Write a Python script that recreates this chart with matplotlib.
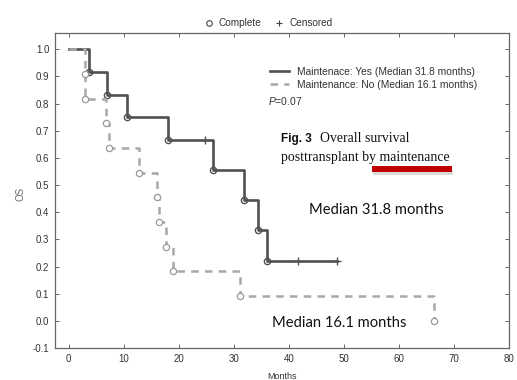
#!/usr/bin/env python3
"""Kaplan-Meier overall survival by maintenance therapy."""

import matplotlib

matplotlib.use("Agg")
import matplotlib.pyplot as plt
from matplotlib.lines import Line2D
from matplotlib.patches import Rectangle

plt.rcParams["font.family"] = ["Liberation Sans", "DejaVu Sans"]
plt.rcParams["mathtext.fontset"] = "custom"
plt.rcParams["mathtext.it"] = "Liberation Sans:italic"
plt.rcParams["mathtext.rm"] = "Liberation Sans"

# Maintenance: Yes
yes_times = [0, 3.7, 7.0, 10.5, 18.1, 26.2, 31.8, 34.4, 36.1, 48.7]
yes_surv = [1.0, 0.917, 0.833, 0.750, 0.667, 0.556, 0.444, 0.333, 0.222, 0.222]
yes_event_times = [3.7, 7.0, 10.5, 18.1, 26.2, 31.8, 34.4, 36.1]
yes_event_surv = [0.917, 0.833, 0.750, 0.667, 0.556, 0.444, 0.333, 0.222]
yes_cens_times = [24.7, 41.6, 48.7]
yes_cens_surv = [0.667, 0.222, 0.222]

# Maintenance: No
no_times = [0, 2.9, 3.0, 6.7, 7.3, 12.7, 16.1, 16.4, 17.6, 19.0, 31.1, 66.3]
no_surv = [1.0, 0.909, 0.818, 0.727, 0.636, 0.545, 0.455, 0.364, 0.273, 0.182, 0.091, 0.0]

x_ticks = [0, 10, 20, 30, 40, 50, 60, 70, 80]
y_ticks = [-0.1, 0.0, 0.1, 0.2, 0.3, 0.4, 0.5, 0.6, 0.7, 0.8, 0.9, 1.0]

YES_COLOR = "#505050"
NO_COLOR = "#a8a8a8"
TEXT_COLOR = "#333333"

fig = plt.figure(figsize=(5.17, 3.80), dpi=100)
ax = fig.add_axes([0.1064, 0.0842, 0.8781, 0.8289])

ax.step(yes_times, yes_surv, where="post", color=YES_COLOR, lw=1.9, zorder=3)
ax.plot(yes_event_times, yes_event_surv, "o", ms=4.5, mfc="none", mec=YES_COLOR, mew=1.0, zorder=4)
ax.plot(yes_cens_times, yes_cens_surv, "+", ms=6, color=YES_COLOR, mew=1.0, zorder=4)

ax.step(no_times, no_surv, where="post", color=NO_COLOR, lw=1.8, ls=(0, (3, 2.5)), zorder=5)
ax.plot(no_times[1:], no_surv[1:], "o", ms=4.5, mfc="white", mec="#999999", mew=0.9, zorder=6)

ax.set_xlim(-2.5, 80)
ax.set_ylim(-0.1, 1.06)
ax.set_xticks(x_ticks)
ax.set_yticks(y_ticks)
ax.set_yticklabels([f"{v:.1f}" for v in y_ticks])
ax.tick_params(direction="in", length=3, width=0.7, colors="#666666", labelcolor=TEXT_COLOR,
               labelsize=7, top=True, right=True, pad=4)
for spine in ax.spines.values():
    spine.set_color("#666666")
    spine.set_linewidth(0.9)

ax.set_xlabel("Months", fontsize=6.5, color=TEXT_COLOR, labelpad=6)
fig.text(21 / 517, 1 - 194 / 380, "OS", rotation=90, fontsize=7, color="#666666",
         ha="center", va="center")

# in-plot legend for the two curves
curve_handles = [
    Line2D([], [], color=YES_COLOR, lw=1.9),
    Line2D([], [], color=NO_COLOR, lw=1.8, ls=(0, (3, 2.5))),
]
curve_labels = [
    "Maintenace: Yes (Median 31.8 months)",
    "Maintenance: No (Median 16.1 months)",
]
ax.legend(curve_handles, curve_labels, loc="upper left",
          bbox_to_anchor=(270 / 517, 1 - 67 / 380), bbox_transform=fig.transFigure,
          frameon=False, fontsize=7.4, handlelength=1.8, handletextpad=0.8,
          labelspacing=0.25, borderpad=0, borderaxespad=0, labelcolor=TEXT_COLOR)
fig.text(268 / 517, 1 - 101 / 380, "$\\mathit{P}$=0.07", fontsize=7.4, color=TEXT_COLOR,
         ha="left", va="center")

# marker key above the axes
key_handles = [
    Line2D([], [], marker="o", ls="none", ms=4, mfc="none", mec="#444444", mew=0.8),
    Line2D([], [], marker="+", ls="none", ms=5, color="#444444", mew=0.8),
]
fig.legend(key_handles, ["Complete", "Censored"], loc="center",
           bbox_to_anchor=(268 / 517, 1 - 23 / 380), ncol=2, frameon=False,
           fontsize=7.2, handlelength=1.0, handletextpad=0.5, columnspacing=1.3,
           labelcolor=TEXT_COLOR)

# figure caption overlay
fig.text(281 / 517, 1 - 139 / 380, "Fig. 3", fontsize=8.5, fontweight="bold",
         color="#111111", ha="left", va="center")
fig.text(320 / 517, 1 - 139 / 380, "Overall survival", fontsize=9.9,
         family=["Liberation Serif"], color="#111111", ha="left", va="center")
fig.text(281 / 517, 1 - 157 / 380, "posttransplant by maintenance", fontsize=9.9,
         family=["Liberation Serif"], color="#111111", ha="left", va="center")

fig.add_artist(Rectangle((373 / 517, 1 - 175 / 380), 80 / 517, 4 / 380,
                         transform=fig.transFigure, color="#999999", alpha=0.35, lw=0))
fig.add_artist(Rectangle((372 / 517, 1 - 171.5 / 380), 80 / 517, 5 / 380,
                         transform=fig.transFigure, color="#c00000", lw=0))

fig.text(376 / 517, 1 - 210 / 380, "Median 31.8 months", fontsize=10.6,
         family=["Lato"], color="#111111", ha="center", va="center")
fig.text(339 / 517, 1 - 323 / 380, "Median 16.1 months", fontsize=10.6,
         family=["Lato"], color="#111111", ha="center", va="center")

fig.savefig("out.png", dpi=100)
